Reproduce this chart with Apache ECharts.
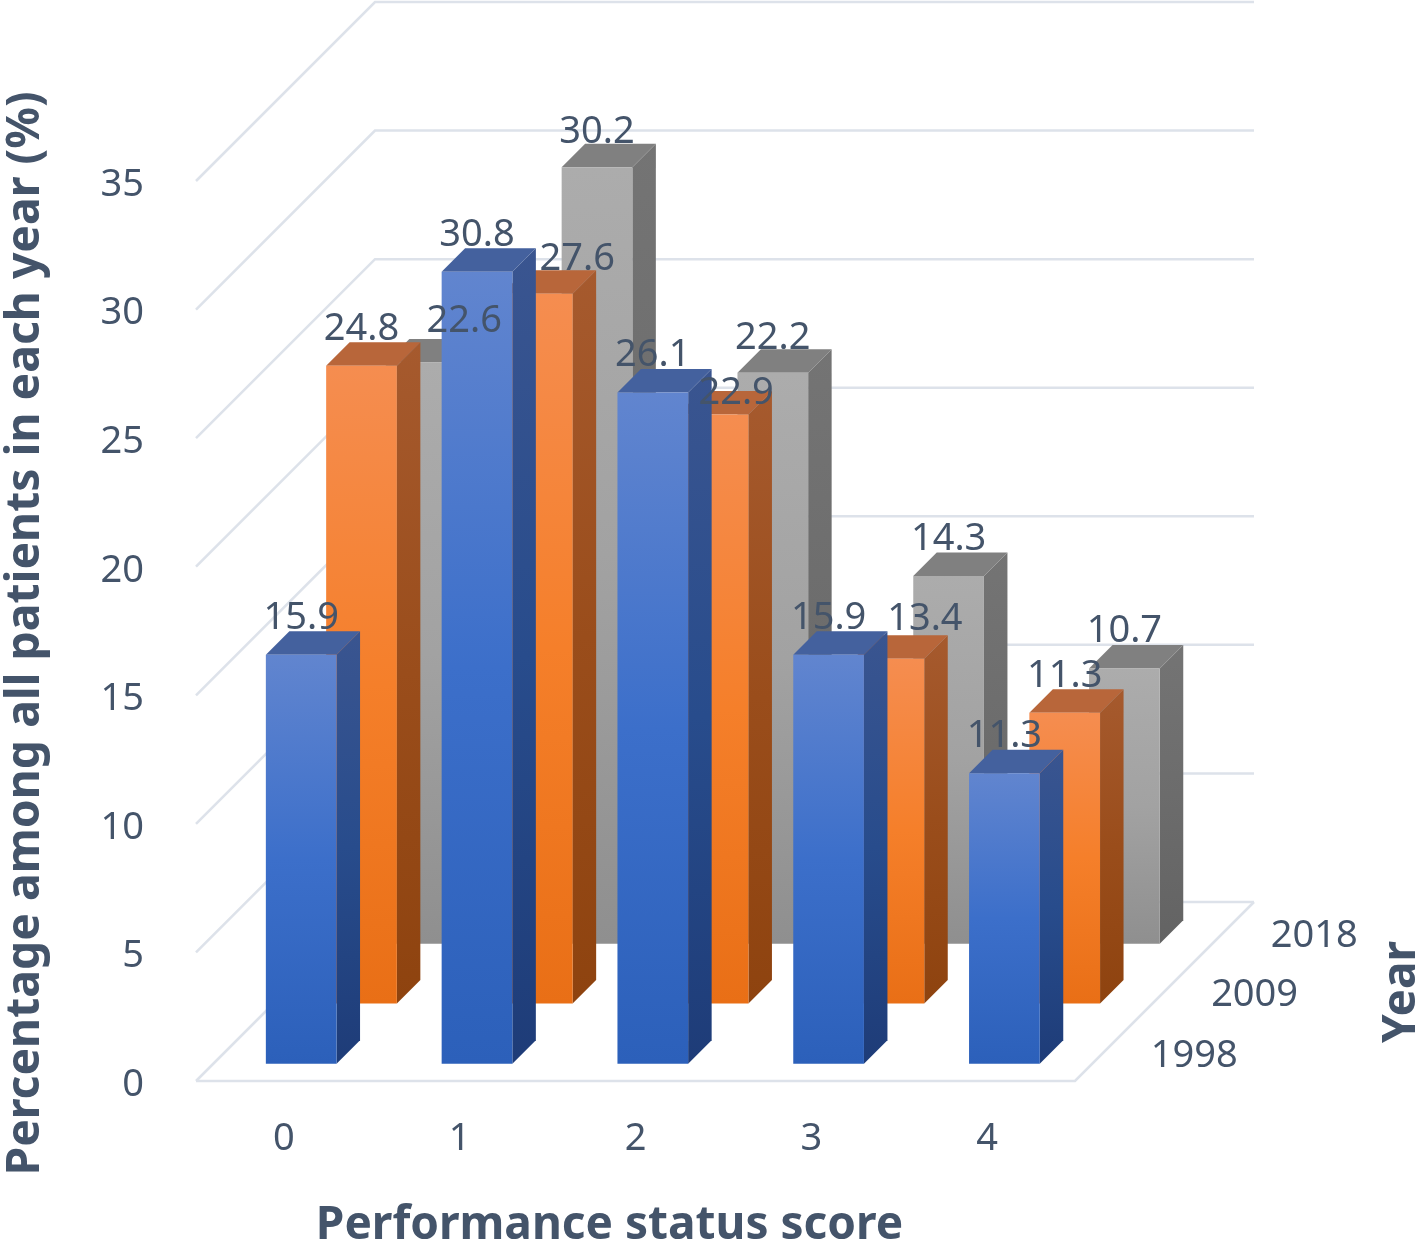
<!DOCTYPE html>
<html>
<head>
<meta charset="utf-8">
<style>html,body{margin:0;padding:0;background:#fff}#c{width:1418px;height:1240px}</style>
<script src="https://cdn.jsdelivr.net/npm/echarts@6/dist/echarts.min.js"></script>
</head>
<body>
<div id="c"></div>
<script>
const categories = ['0', '1', '2', '3', '4'];
const years = ['1998', '2009', '2018'];
const values1998 = [15.9, 30.8, 26.1, 15.9, 11.3];
const values2009 = [24.8, 27.6, 22.9, 13.4, 11.3];
const values2018 = [22.6, 30.2, 22.2, 14.3, 10.7];
const yTicks = [0, 5, 10, 15, 20, 25, 30, 35];

const TEXT = '#44546A', WALL = '#DDE2EA';
const FONT = '"Noto Sans", "Open Sans", sans-serif';
const LABEL_FONT = '38px ' + FONT;
const BAR_W = 70.7, SIDE = 23.5, FLOOR_DEPTH = 179;
const rowDepth = { '1998': 17.3, '2009': 77.6, '2018': 137.3 };
const labelNudge = { '2018:0': [43, -4], '2009:1': [40, 2], '2009:2': [23, 16], '2009:3': [36, -3], '2018:1': [0, 2], '2018:2': [0, 2] };
const vGrad = (a, b, c) => ({ type: 'linear', x: 0, y: 0, x2: 0, y2: 1,
  colorStops: [{ offset: 0, color: a }, { offset: 0.5, color: b }, { offset: 1, color: c }] });
const palette = {
  '1998': { front: vGrad('#6185CF', '#3C6FCA', '#2C60BA'), side: vGrad('#3A5590', '#284C8C', '#1E3C78'), top: '#44619E' },
  '2009': { front: vGrad('#F58D50', '#F57F2A', '#E96F16'), side: vGrad('#A65A2E', '#9A4D1B', '#8E430F'), top: '#B8663A' },
  '2018': { front: vGrad('#ACACAC', '#A2A2A2', '#8F8F8F'), side: vGrad('#747474', '#6C6C6C', '#636363'), top: '#808080' }
};

function barSeries(year, values, z) {
  const d = rowDepth[year], col = palette[year];
  return {
    type: 'custom', name: year, z, clip: false, silent: true,
    data: values.map((v, i) => [i, v]),
    encode: { x: 0, y: 1 },
    renderItem(params, api) {
      const b = api.coord([api.value(0), 0]), t = api.coord([api.value(0), api.value(1)]);
      const l = b[0] + d - BAR_W / 2, r = l + BAR_W, yb = b[1] - d, yt = t[1] - d;
      return { type: 'group', children: [
        { type: 'polygon', shape: { points: [[r, yt], [r + SIDE, yt - SIDE], [r + SIDE, yb - SIDE], [r, yb]] }, style: { fill: col.side } },
        { type: 'polygon', shape: { points: [[l, yt], [l + SIDE, yt - SIDE], [r + SIDE, yt - SIDE], [r, yt]] }, style: { fill: col.top } },
        { type: 'rect', shape: { x: l, y: yt, width: BAR_W, height: yb - yt }, style: { fill: col.front } }
      ] };
    }
  };
}
function labelSeries(year, values) {
  const d = rowDepth[year];
  return {
    type: 'custom', name: year + ' labels', z: 10, clip: false, silent: true,
    data: values.map((v, i) => [i, v]),
    encode: { x: 0, y: 1 },
    renderItem(params, api) {
      const i = api.value(0), v = api.value(1);
      const t = api.coord([i, v]), n = labelNudge[year + ':' + i] || [0, 0];
      return { type: 'text', style: { text: v.toFixed(1), x: t[0] + d + n[0], y: t[1] - d - 37 + n[1],
        align: 'center', verticalAlign: 'middle', fill: TEXT, font: LABEL_FONT } };
    }
  };
}
const wallSeries = {
  type: 'custom', name: 'walls', z: 1, clip: false, silent: true,
  data: yTicks.map(v => [0, v]),
  encode: { x: 0, y: 1 },
  renderItem(params, api) {
    const p = api.coord([0, api.value(1)]), band = api.size([1, 0])[0];
    const x0 = p[0] - band / 2, y0 = p[1], n = categories.length;
    const ls = { stroke: WALL, lineWidth: 2.5, fill: null };
    const kids = [
      { type: 'polyline', shape: { points: [[x0, y0], [x0 + FLOOR_DEPTH, y0 - FLOOR_DEPTH], [x0 + n * band + FLOOR_DEPTH, y0 - FLOOR_DEPTH]] }, style: ls }
    ];
    if (api.value(1) === 0) {
      kids.push({ type: 'polyline', shape: { points: [[x0, y0], [x0 + n * band, y0], [x0 + n * band + FLOOR_DEPTH, y0 - FLOOR_DEPTH]] }, style: ls });
    }
    return { type: 'group', children: kids };
  }
};
const yearSeries = {
  type: 'custom', name: 'year labels', z: 10, clip: false, silent: true,
  data: years.map(y => [categories.length - 1, 0, y]),
  encode: { x: 0, y: 1 },
  renderItem(params, api) {
    const p = api.coord([api.value(0), 0]), band = api.size([1, 0])[0];
    const y = years[params.dataIndex], d = rowDepth[y];
    return { type: 'text', style: { text: y, x: p[0] + band / 2 + d + 102, y: p[1] - d - 8,
      align: 'center', verticalAlign: 'middle', fill: TEXT, font: LABEL_FONT } };
  }
};

const chart = echarts.init(document.getElementById('c'), null, { renderer: 'canvas' });
chart.setOption({
  animation: false,
  backgroundColor: '#fff',
  grid: { left: 196, right: 343, top: 181, bottom: 159, containLabel: false, outerBoundsMode: 'none' },
  xAxis: {
    type: 'category', data: categories,
    axisLine: { show: false }, axisTick: { show: false }, splitLine: { show: false },
    axisLabel: { color: TEXT, fontFamily: FONT, fontSize: 38, margin: 39 },
    name: 'Performance status score', nameLocation: 'middle', nameGap: 122,
    nameTextStyle: { color: TEXT, fontFamily: FONT, fontSize: 46, fontWeight: 'bold', padding: [0, 52, 0, 0] }
  },
  yAxis: {
    type: 'value', min: 0, max: 35, interval: 5,
    axisLine: { show: false }, axisTick: { show: false }, splitLine: { show: false },
    axisLabel: { color: TEXT, fontFamily: FONT, fontSize: 38, margin: 52, formatter: '{a|{value}}',
      rich: { a: { color: TEXT, fontFamily: FONT, fontSize: 38, padding: [8, 0, 0, 0] } } },
    name: 'Percentage among all patients in each year (%)', nameLocation: 'middle', nameGap: 147, nameRotate: 90,
    nameTextStyle: { color: TEXT, fontFamily: FONT, fontSize: 46.3, fontWeight: 'bold', padding: [0, 5, 0, 0] }
  },
  graphic: [{ type: 'text', x: 1402, y: 992, rotation: Math.PI / 2, silent: true,
    style: { text: 'Year', align: 'center', verticalAlign: 'middle', fill: TEXT, font: 'bold 46px ' + FONT } }],
  series: [
    wallSeries,
    barSeries('2018', values2018, 2),
    barSeries('2009', values2009, 3),
    barSeries('1998', values1998, 4),
    labelSeries('2018', values2018),
    labelSeries('2009', values2009),
    labelSeries('1998', values1998),
    yearSeries
  ]
});
</script>
</body>
</html>
